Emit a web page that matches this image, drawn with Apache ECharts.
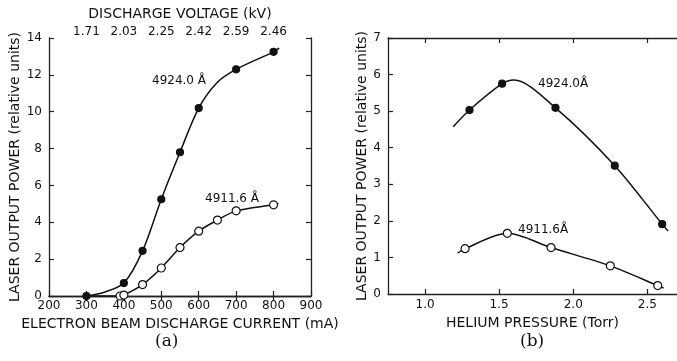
<!DOCTYPE html>
<html>
<head>
<meta charset="utf-8">
<script src="https://cdn.jsdelivr.net/npm/echarts@6/dist/echarts.min.js"></script>
<style>
  html, body { margin: 0; background: #fff; }
  #chart { width: 677px; height: 361px; }
</style>
</head>
<body>
<div id="chart"></div>
<script>
// (a) electron beam discharge current vs output power
const voltageAt = [300, 400, 500, 600, 700, 800];
const voltageLabels = ['1.71', '2.03', '2.25', '2.42', '2.59', '2.46'];

const current4924 = [300, 400, 450, 500, 550, 600, 700, 800];
const power4924 = [0, 0.7, 2.45, 5.25, 7.8, 10.2, 12.3, 13.25];
const curveCurrent4924 = [300, 350, 400, 450, 500, 550, 600, 650, 700, 800, 815];
const curvePower4924 = [0, 0.22, 0.7, 2.45, 5.25, 7.8, 10.2, 11.6, 12.3, 13.25, 13.45];

const current4911 = [390, 400, 450, 500, 550, 600, 650, 700, 800];
const power4911 = [0, 0.05, 0.62, 1.52, 2.63, 3.52, 4.12, 4.62, 4.95];
const curveCurrent4911 = [300, 385, 400, 450, 500, 550, 600, 650, 700, 800, 813];
const curvePower4911 = [0, 0, 0.06, 0.62, 1.52, 2.63, 3.52, 4.12, 4.62, 4.95, 5.02];

// (b) helium pressure vs output power
const pressureTicks = [1.0, 1.5, 2.0, 2.5];

const pressure4924 = [1.3, 1.52, 1.88, 2.28, 2.6];
const powerB4924 = [5.03, 5.75, 5.09, 3.51, 1.91];
const curvePressure4924 = [1.19, 1.3, 1.52, 1.6, 1.88, 2.28, 2.6, 2.64];
const curvePowerB4924 = [4.57, 5.03, 5.75, 5.85, 5.09, 3.51, 1.91, 1.72];

const pressure4911 = [1.27, 1.555, 1.85, 2.25, 2.57];
const powerB4911 = [1.24, 1.66, 1.27, 0.77, 0.23];
const curvePressure4911 = [1.22, 1.27, 1.555, 1.85, 2.25, 2.57, 2.61];
const curvePowerB4911 = [1.12, 1.24, 1.66, 1.27, 0.77, 0.23, 0.16];

const ink = '#111';
const font = 'DejaVu Sans';

function pairs(xs, ys) {
    return xs.map((x, i) => [x, ys[i]]);
}

const axisLine = { show: true, lineStyle: { color: '#222', width: 1.3 } };
const tickIn = { show: true, inside: true, length: 5, lineStyle: { color: '#222', width: 1.2 } };
const labelText = { color: ink, fontFamily: font, fontSize: 12 };
const nameText = { color: ink, fontFamily: font, fontSize: 14 };

function curve(data, xi, yi) {
    return {
        type: 'line', xAxisIndex: xi, yAxisIndex: yi, data: data,
        smooth: 0.3, showSymbol: false, symbol: 'none',
        lineStyle: { color: ink, width: 1.5 }, silent: true, z: 2
    };
}
function dots(data, xi, yi, filled) {
    return {
        type: 'scatter', xAxisIndex: xi, yAxisIndex: yi, data: data,
        symbol: 'circle', symbolSize: filled ? 7 : 8,
        itemStyle: { color: filled ? ink : '#fff', borderColor: ink, borderWidth: 1.2, opacity: 1 },
        z: 3
    };
}

const chart = echarts.init(document.getElementById('chart'));

chart.setOption({
    backgroundColor: '#fff',
    animation: false,
    grid: [
        { left: 49, top: 38, width: 262, height: 258 },
        { left: 388, top: 38, width: 290, height: 256 }
    ],
    xAxis: [
        {
            gridIndex: 0, type: 'value', position: 'bottom', min: 200, max: 900, interval: 100,
            axisLine: axisLine, axisTick: tickIn, splitLine: { show: false },
            axisLabel: Object.assign({ margin: 4 }, labelText),
            name: 'ELECTRON BEAM DISCHARGE CURRENT (mA)', nameLocation: 'middle', nameGap: 19,
            nameTextStyle: nameText
        },
        {
            gridIndex: 0, type: 'value', position: 'top', min: 200, max: 900,
            axisLine: axisLine, splitLine: { show: false },
            axisTick: Object.assign({ customValues: voltageAt }, tickIn),
            axisLabel: Object.assign({
                margin: 0, customValues: voltageAt,
                formatter: v => voltageLabels[voltageAt.indexOf(v)] || ''
            }, labelText),
            name: 'DISCHARGE VOLTAGE (kV)', nameLocation: 'middle', nameGap: 16,
            nameTextStyle: nameText
        },
        {
            gridIndex: 1, type: 'value', position: 'bottom', min: 0.75, max: 2.7,
            axisLine: axisLine, splitLine: { show: false },
            axisTick: Object.assign({ customValues: pressureTicks }, tickIn),
            axisLabel: Object.assign({
                margin: 5, customValues: pressureTicks, formatter: v => v.toFixed(1)
            }, labelText),
            name: 'HELIUM PRESSURE (Torr)', nameLocation: 'middle', nameGap: 20,
            nameTextStyle: nameText
        },
        {
            gridIndex: 1, type: 'value', position: 'top', min: 0.75, max: 2.7,
            axisLine: axisLine, splitLine: { show: false },
            axisTick: Object.assign({ customValues: pressureTicks }, tickIn),
            axisLabel: { show: false }
        }
    ],
    yAxis: [
        {
            gridIndex: 0, type: 'value', position: 'left', min: 0, max: 14, interval: 2,
            axisLine: axisLine, axisTick: tickIn, splitLine: { show: false },
            axisLabel: Object.assign({ margin: 7 }, labelText),
            name: 'LASER OUTPUT POWER (relative units)', nameLocation: 'middle', nameGap: 22,
            nameTextStyle: nameText
        },
        {
            gridIndex: 0, type: 'value', position: 'right', min: 0, max: 14, interval: 2,
            axisLine: axisLine, axisTick: tickIn, splitLine: { show: false },
            axisLabel: { show: false }
        },
        {
            gridIndex: 1, type: 'value', position: 'left', min: 0, max: 7, interval: 1,
            axisLine: axisLine, axisTick: tickIn, splitLine: { show: false },
            axisLabel: Object.assign({ margin: 7 }, labelText),
            name: 'LASER OUTPUT POWER (relative units)', nameLocation: 'middle', nameGap: 17,
            nameTextStyle: nameText
        }
    ],
    series: [
        curve(pairs(curveCurrent4924, curvePower4924), 0, 0),
        curve(pairs(curveCurrent4911, curvePower4911), 0, 0),
        dots(pairs(current4924, power4924), 0, 0, true),
        dots(pairs(current4911, power4911), 0, 0, false),
        curve(pairs(curvePressure4924, curvePowerB4924), 2, 2),
        curve(pairs(curvePressure4911, curvePowerB4911), 2, 2),
        dots(pairs(pressure4924, powerB4924), 2, 2, true),
        dots(pairs(pressure4911, powerB4911), 2, 2, false)
    ],
    graphic: [
        { type: 'text', left: 152, top: 75, style: { text: '4924.0 Å', fill: ink, font: '12px "DejaVu Sans"' } },
        { type: 'text', left: 205, top: 193, style: { text: '4911.6 Å', fill: ink, font: '12px "DejaVu Sans"' } },
        { type: 'text', left: 538, top: 78, style: { text: '4924.0Å', fill: ink, font: '12px "DejaVu Sans"' } },
        { type: 'text', left: 518, top: 224, style: { text: '4911.6Å', fill: ink, font: '12px "DejaVu Sans"' } },
        { type: 'text', left: 155, top: 333, style: { text: '(a)', fill: ink, font: '17px "DejaVu Serif"' } },
        { type: 'text', left: 520, top: 333, style: { text: '(b)', fill: ink, font: '17px "DejaVu Serif"' } }
    ]
});
</script>
</body>
</html>
